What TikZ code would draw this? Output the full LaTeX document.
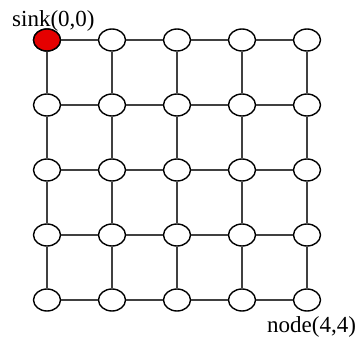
\documentclass[tikz,border=0pt]{standalone}
\usepackage{fontspec}
\setmainfont{Liberation Serif}
\usetikzlibrary{shapes.geometric}
\begin{document}
\begin{tikzpicture}[x=1pt,y=-1pt,
  gridnode/.style={ellipse,draw=black,line width=1.4pt,fill=white,minimum width=27pt,minimum height=22pt,inner sep=0pt},
  sinknode/.style={gridnode,fill=red!90!black},
  link/.style={draw=black!75,line width=1.1pt},
  lbl/.style={inner sep=0pt,font=\fontsize{23}{27}\selectfont}]
\useasboundingbox (0,0) rectangle (356,339);
\foreach \i in {0,...,4}{
  \foreach \j in {0,...,4}{
    \node[gridnode] (n-\i-\j) at ({47+65*\i},{40+65*\j}) {};
  }
}
\node[sinknode] at (n-0-0) {};
\foreach \i in {0,...,4}{
  \foreach \j [evaluate=\j as \k using int(\j+1)] in {0,...,3}{
    \draw[link] (n-\i-\j) -- (n-\i-\k);
    \draw[link] (n-\j-\i) -- (n-\k-\i);
  }
}
\node[lbl,anchor=base west] (sinklbl) at (12,27) {sink(0,0)};
\node[lbl,anchor=base west] (endlbl) at (267,332) {node(4,4)};
\end{tikzpicture}
\end{document}
